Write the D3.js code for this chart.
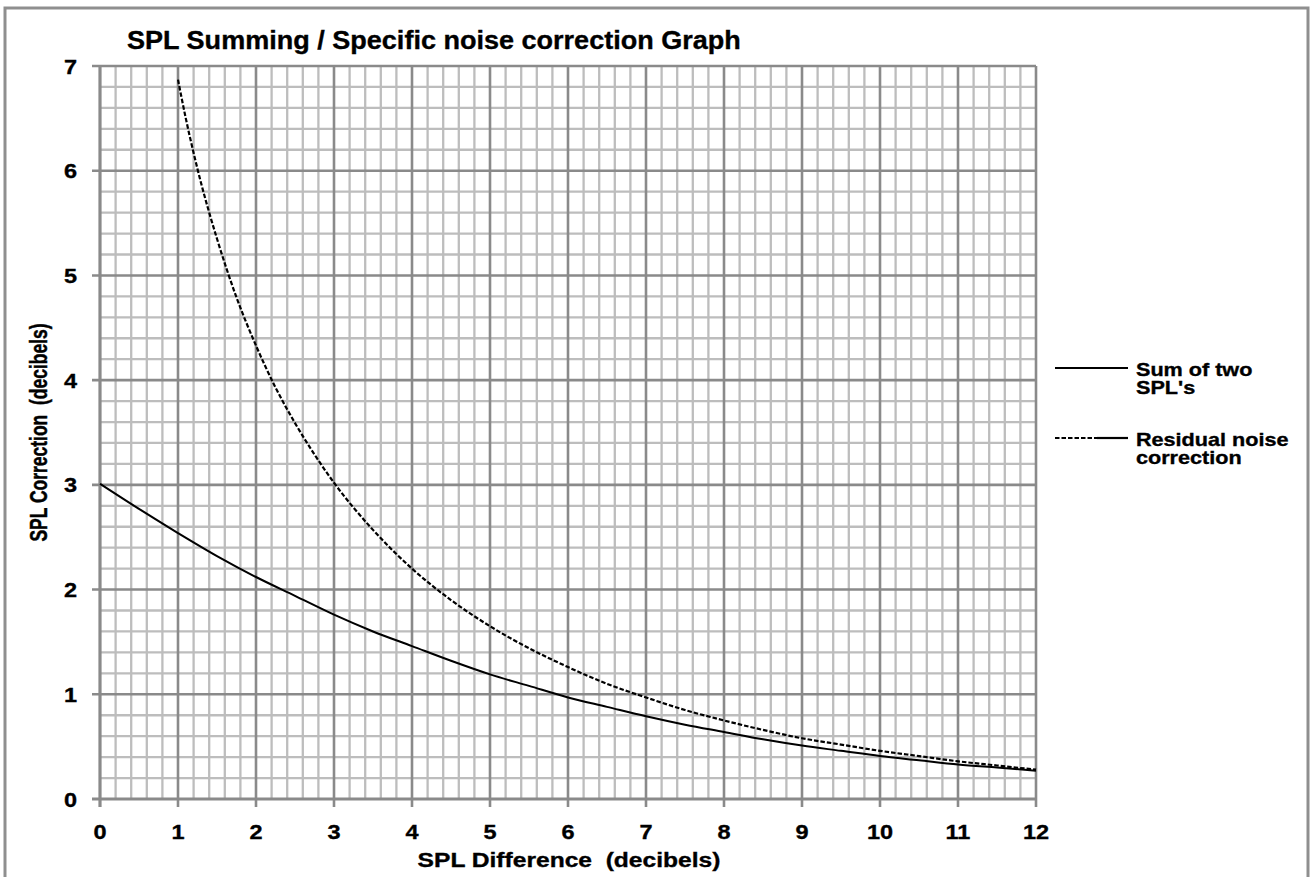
<!DOCTYPE html>
<html><head><meta charset="utf-8">
<script src="https://cdn.jsdelivr.net/npm/d3@7"></script>
<style>
body{margin:0;background:#fff;}
text{font-family:"Liberation Sans",Arial,sans-serif;font-weight:bold;fill:#000;white-space:pre;stroke:#000;stroke-width:0.35px;}
</style></head>
<body><svg id="c" width="1310" height="877"></svg>
<script>
// ---- data ----
const titleText = "SPL Summing / Specific noise correction Graph";
const xTitle = "SPL Difference  (decibels)";
const yTitle = "SPL Correction  (decibels)";
const xTicks = [0,1,2,3,4,5,6,7,8,9,10,11,12];
const yTicks = [0,1,2,3,4,5,6,7];
const sumDiff = [0,0.5,1,1.5,2,2.5,3,3.5,4,4.5,5,5.5,6,6.5,7,7.5,8,8.5,9,9.5,10,10.5,11,11.5,12];
const sumCorr = [3.01,2.77,2.54,2.32,2.12,1.94,1.76,1.60,1.46,1.32,1.19,1.08,0.97,0.88,0.79,0.71,0.64,0.57,0.51,0.46,0.41,0.37,0.33,0.30,0.27];
const resDiff = [1,1.1,1.2,1.3,1.4,1.5,1.75,2,2.25,2.5,2.75,3,3.5,4,4.5,5,5.5,6,6.5,7,7.5,8,8.5,9,9.5,10,10.5,11,11.5,12];
const resCorr = [6.87,6.50,6.17,5.87,5.60,5.35,4.79,4.33,3.93,3.59,3.29,3.02,2.57,2.20,1.90,1.65,1.44,1.26,1.10,0.97,0.85,0.75,0.66,0.58,0.52,0.46,0.41,0.36,0.32,0.28];
const legendLabels = [["Sum of two","SPL's"],["Residual noise","correction"]];

// ---- drawing ----
const svg = d3.select("#c");
const x = d3.scaleLinear().domain([0,12]).range([100,1036]);
const y = d3.scaleLinear().domain([0,7]).range([799,66]);

svg.append("rect").attr("x",5).attr("y",8).attr("width",1303).attr("height",900)
  .attr("fill","#fff").attr("stroke","#8f8f8f").attr("stroke-width",3);

const minorX = d3.range(0,60).map(i=>i/5).filter(v=>Math.abs(v-Math.round(v))>1e-6);
const minorY = d3.range(0,35).map(i=>i/5).filter(v=>Math.abs(v-Math.round(v))>1e-6);
const g = svg.append("g");
g.selectAll(".mx").data(minorX).join("line")
  .attr("x1",d=>x(d)).attr("x2",d=>x(d)).attr("y1",y(7)).attr("y2",y(0))
  .attr("stroke","#bdbdbd").attr("stroke-width",2.3);
g.selectAll(".my").data(minorY).join("line")
  .attr("y1",d=>y(d)).attr("y2",d=>y(d)).attr("x1",x(0)).attr("x2",x(12))
  .attr("stroke","#bdbdbd").attr("stroke-width",2.3);
g.selectAll(".Mx").data(xTicks).join("line")
  .attr("x1",d=>x(d)).attr("x2",d=>x(d)).attr("y1",y(7)).attr("y2",y(0)+8)
  .attr("stroke","#8a8a8a").attr("stroke-width",d=>d===0?3.2:2.6);
g.selectAll(".My").data(yTicks).join("line")
  .attr("y1",d=>y(d)).attr("y2",d=>y(d)).attr("x1",x(0)-8).attr("x2",x(12))
  .attr("stroke","#8a8a8a").attr("stroke-width",d=>d===0?3.2:2.6);

// tick labels
svg.selectAll(".xl").data(xTicks).join("text")
  .attr("transform",d=>`translate(${x(d)},839) scale(1.12,1)`)
  .attr("text-anchor","middle").attr("font-size",21).text(d=>d);
svg.selectAll(".yl").data(yTicks).join("text")
  .attr("transform",d=>`translate(77,${y(d)+7.5}) scale(1.12,1)`)
  .attr("text-anchor","end").attr("font-size",21).text(d=>d);

// titles
svg.append("text").attr("transform","translate(127,49) scale(1.04,1)")
  .attr("font-size",26).text(titleText);
svg.append("text").attr("transform","translate(569,867) scale(1.2,1)")
  .attr("text-anchor","middle").attr("font-size",20.5).text(xTitle);
svg.append("text").attr("transform",`translate(47,${(y(0)+y(7))/2}) rotate(-90) scale(1,1.35)`)
  .attr("text-anchor","middle").attr("font-size",17.5).text(yTitle);

// curves
const line = d3.line().x(d=>x(d[0])).y(d=>y(d[1])).curve(d3.curveMonotoneX);
svg.append("path").datum(sumDiff.map((d,i)=>[d,sumCorr[i]]))
  .attr("d",line).attr("fill","none").attr("stroke","#000").attr("stroke-width",2);
svg.append("path").datum(resDiff.map((d,i)=>[d,resCorr[i]]))
  .attr("d",line).attr("fill","none").attr("stroke","#000").attr("stroke-width",2.2)
  .attr("stroke-dasharray","4.5,2");

// legend
const lg = svg.append("g");
lg.append("line").attr("x1",1055).attr("x2",1128).attr("y1",368).attr("y2",368)
  .attr("stroke","#000").attr("stroke-width",2.2);
lg.append("line").attr("x1",1055).attr("x2",1097).attr("y1",438).attr("y2",438)
  .attr("stroke","#000").attr("stroke-width",2.2).attr("stroke-dasharray","4.5,2");
lg.append("line").attr("x1",1097).attr("x2",1128).attr("y1",438).attr("y2",438)
  .attr("stroke","#000").attr("stroke-width",2.2);
legendLabels.forEach((lab,i)=>{
  lab.forEach((t,j)=>{
    lg.append("text").attr("transform",`translate(1136,${375.5+i*70+j*18}) scale(1.2,1)`)
      .attr("font-size",18).text(t);
  });
});
</script></body></html>
